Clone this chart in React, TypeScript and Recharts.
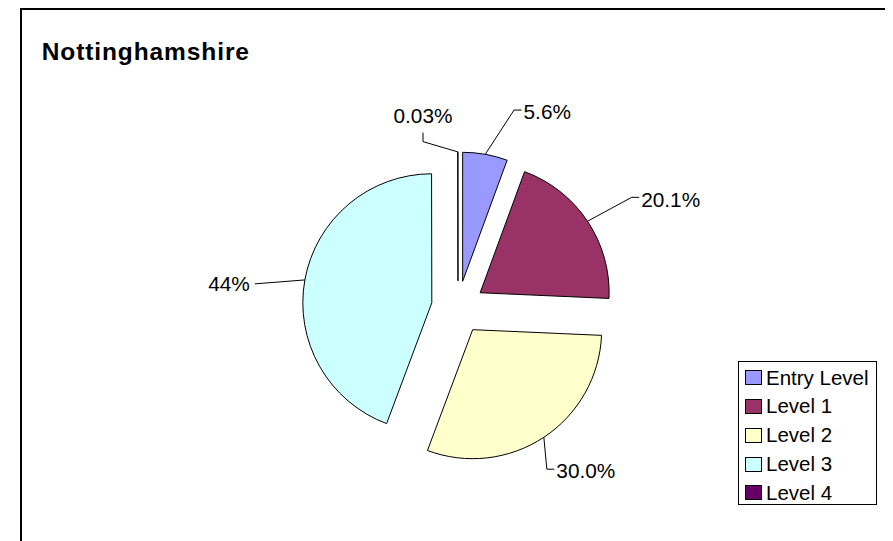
import { Cell, Legend, Pie, PieChart } from "recharts";

const CATEGORIES = ["Entry Level", "Level 1", "Level 2", "Level 3", "Level 4"];
const SHARES = [5.6, 20.1, 30.0, 44.27, 0.03];
const SHARE_LABELS = ["5.6%", "20.1%", "30.0%", "44%", "0.03%"];
const COLORS = ["#9999FF", "#993366", "#FFFFCC", "#CCFFFF", "#660066"];

const TITLE = "Nottinghamshire";

// layout of the chart area (relative to the root div)
const W = 885;
const H = 533;
const CENTER_X = 450;
const CENTER_Y = 299.5;
const RADIUS = 129;
const EXPLODE = 26.6;
const FONT = "'Liberation Sans', Arial, Helvetica, sans-serif";

/** Where each data label's leader line bends: angle (clockwise from 12 o'clock) and distance from the slice's own centre. */
const LABEL_SPOTS: { angle: number; dist: number; side: "right" | "left" | "top" }[] = [
  { angle: 16.7, dist: 178.8, side: "right" },
  { angle: 57.8, dist: 179.1, side: "right" },
  { angle: 152.0, dist: 158, side: "right" },
  { angle: 276.1, dist: 178, side: "left" },
  { angle: 345.9, dist: 143.6, side: "top" },
];

const chartData = CATEGORIES.map((name, i) => ({ name, value: SHARES[i] }));
const total = SHARES.reduce((a, b) => a + b, 0);

// each slice is pulled out along its own bisector, Excel style
const offsets = SHARES.map((v, i) => {
  const before = SHARES.slice(0, i).reduce((a, b) => a + b, 0);
  const theta = ((before + v / 2) / total) * 2 * Math.PI;
  return { dx: EXPLODE * Math.sin(theta), dy: -EXPLODE * Math.cos(theta) };
});

function makeLabel(target: number) {
  return (props: any) => {
    if (props.index !== target) return null;
    const { cx, cy, midAngle, outerRadius } = props;
    const rad = (-midAngle * Math.PI) / 180;
    const sx = cx + outerRadius * Math.cos(rad);
    const sy = cy + outerRadius * Math.sin(rad);
    const spot = LABEL_SPOTS[target];
    const a = (spot.angle * Math.PI) / 180;
    const ex = cx + spot.dist * Math.sin(a);
    const ey = cy - spot.dist * Math.cos(a);
    const text = SHARE_LABELS[target];

    if (spot.side === "top") {
      return (
        <g>
          <polyline
            points={`${sx},${sy} ${ex},${ey} ${ex},${ey - 9}`}
            fill="none"
            stroke="#000"
            strokeWidth={1}
          />
          <text x={ex} y={ey - 18.4} textAnchor="middle" fontSize={20.8} fontFamily={FONT} fill="#000">
            {text}
          </text>
        </g>
      );
    }
    if (spot.side === "left") {
      return (
        <g>
          <polyline points={`${sx},${sy} ${ex},${ey}`} fill="none" stroke="#000" strokeWidth={1} />
          <text x={ex - 5} y={ey + 7.6} textAnchor="end" fontSize={20.8} fontFamily={FONT} fill="#000">
            {text}
          </text>
        </g>
      );
    }
    return (
      <g>
        <polyline
          points={`${sx},${sy} ${ex},${ey} ${ex + 7.5},${ey}`}
          fill="none"
          stroke="#000"
          strokeWidth={1}
        />
        <text x={ex + 9.5} y={ey + 9.3} textAnchor="start" fontSize={20.8} fontFamily={FONT} fill="#000">
          {text}
        </text>
      </g>
    );
  };
}

function LegendBox() {
  return (
    <div
      style={{
        boxSizing: "border-box",
        width: 138.5,
        height: 144,
        border: "1px solid #000",
        background: "#fff",
        paddingTop: 1.6,
        fontFamily: FONT,
      }}
    >
      {CATEGORIES.map((name, i) => (
        <div key={name} style={{ display: "flex", alignItems: "center", height: 28.75 }}>
          <span
            style={{
              boxSizing: "border-box",
              display: "inline-block",
              width: 17,
              height: 15,
              marginLeft: 6.2,
              marginRight: 3.5,
              border: "1px solid #000",
              background: COLORS[i],
            }}
          />
          <span style={{ fontSize: 20.5, lineHeight: 1, color: "#000" }}>{name}</span>
        </div>
      ))}
    </div>
  );
}

export default function App() {
  return (
    <div style={{ position: "relative", width: W, height: H, overflow: "hidden", background: "#fff" }}>
      <svg width={W} height={H} style={{ position: "absolute", left: 0, top: 0 }}>
        {/* chart frame: only its left and top edges fall inside the picture */}
        <path d={`M13,${H} V1 H${W}`} fill="none" stroke="#000" strokeWidth={2} />
        <text
          x={33.7}
          y={52}
          fontFamily={FONT}
          fontWeight="bold"
          fontSize={24.5}
          letterSpacing={0.9}
          fill="#000"
        >
          {TITLE}
        </text>
      </svg>
      <PieChart
        width={W}
        height={H}
        margin={{ top: 0, right: 0, bottom: 0, left: 0 }}
        style={{ position: "absolute", left: 0, top: 0 }}
      >
        {offsets.map((off, i) => (
          <Pie
            key={`pie-${i}`}
            data={chartData}
            dataKey="value"
            nameKey="name"
            cx={CENTER_X + off.dx}
            cy={CENTER_Y + off.dy}
            innerRadius={0}
            outerRadius={RADIUS}
            startAngle={90}
            endAngle={-270}
            isAnimationActive={false}
            labelLine={false}
            label={makeLabel(i)}
            legendType="none"
          >
            {chartData.map((_, j) => (
              <Cell
                key={`cell-${i}-${j}`}
                fill={j === i ? COLORS[j] : "none"}
                stroke={j === i ? "#000" : "none"}
                strokeWidth={1}
              />
            ))}
          </Pie>
        ))}
        <Legend
          layout="vertical"
          align="right"
          verticalAlign="bottom"
          wrapperStyle={{ left: 730.3, top: 353, width: 138.5, height: 144 }}
          content={() => <LegendBox />}
        />
      </PieChart>
    </div>
  );
}
